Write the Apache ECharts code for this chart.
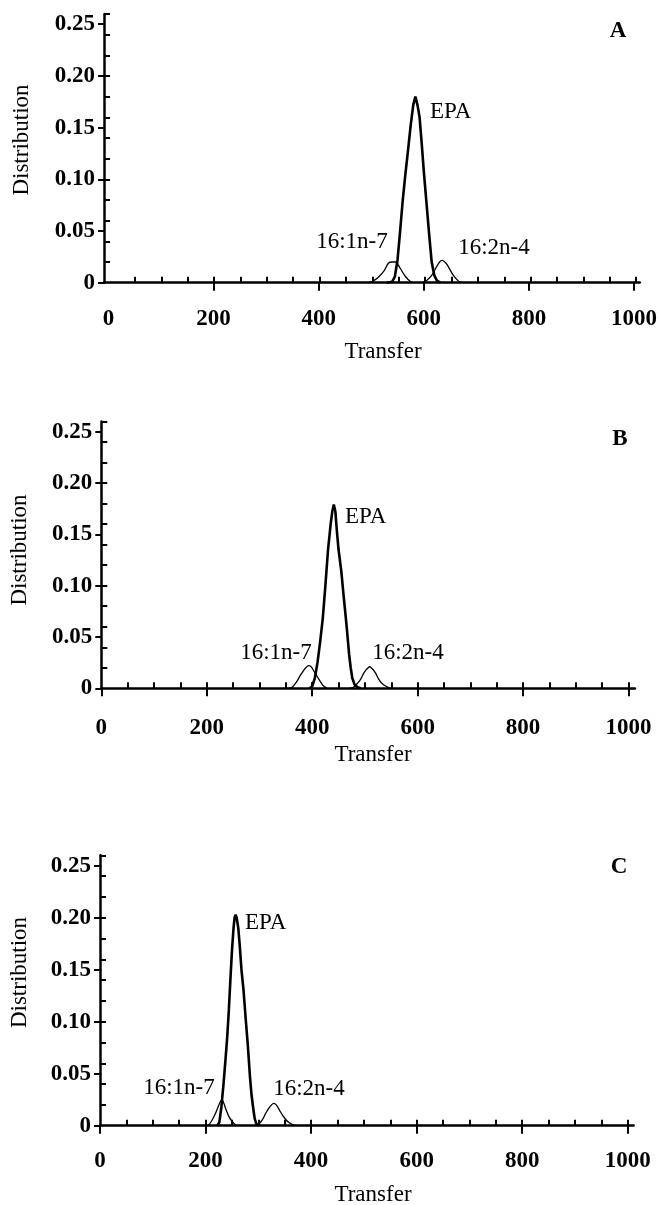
<!DOCTYPE html>
<html><head><meta charset="utf-8">
<script src="https://cdn.jsdelivr.net/npm/echarts@6/dist/echarts.min.js"></script>
<style>html,body{margin:0;padding:0;background:#fff}#c{width:660px;height:1205px}</style>
</head><body><div id="c"></div>
<script>
// ---- tick values / labels ----
const xTickValues = [0, 200, 400, 600, 800, 1000];
const xTickLabels = ['0', '200', '400', '600', '800', '1000'];
const xMinorValues = [50,100,150,200,250,300,350,400,450,500,550,600,650,700,750,800,850,900,950,1000];
const yTickValues = [0, 0.05, 0.10, 0.15, 0.20, 0.25];
const yTickLabels = ['0', '0.05', '0.10', '0.15', '0.20', '0.25'];
const yMinorValues = [0.02,0.04,0.06,0.08,0.10,0.12,0.14,0.16,0.18,0.20,0.22,0.24,0.26];
const panelLetters = ['A', 'B', 'C'];
const peakNames = ['EPA', '16:1n-7', '16:2n-4'];

// ---- panel A ----
const epaA = [[530,0],[540,0.001],[545,0.006],[550,0.022],[555,0.050],[560,0.080],[565,0.105],[570,0.128],[575,0.152],[580,0.172],[584,0.180],[588,0.172],[592,0.160],[596,0.135],[600,0.108],[605,0.078],[610,0.048],[615,0.020],[620,0.007],[625,0.002],[632,0]];
const n7A = [[495,0],[505,0.002],[515,0.006],[525,0.012],[533,0.019],[540,0.020],[546,0.020],[555,0.014],[565,0.006],[575,0.001],[580,0]];
const n4A = [[598,0],[605,0.002],[615,0.007],[625,0.016],[630,0.020],[635,0.0215],[640,0.020],[645,0.017],[655,0.008],[665,0.002],[673,0]];
// ---- panel B ----
const epaB = [[395,0],[400,0.002],[405,0.010],[410,0.025],[415,0.045],[420,0.068],[425,0.100],[430,0.135],[435,0.160],[438,0.172],[441,0.179],[444,0.172],[447,0.152],[450,0.135],[455,0.115],[460,0.088],[465,0.062],[470,0.033],[473,0.020],[476,0.010],[480,0.004],[486,0.001],[492,0]];
const n7B = [[355,0],[362,0.001],[370,0.006],[378,0.013],[386,0.019],[393,0.022],[398,0.021],[404,0.016],[410,0.011],[416,0.006],[422,0.002],[428,0]];
const n4B = [[470,0],[478,0.001],[486,0.005],[492,0.009],[498,0.015],[504,0.019],[509,0.021],[514,0.019],[520,0.015],[526,0.009],[532,0.005],[540,0.002],[548,0]];
// ---- panel C ----
const epaC = [[222,0],[226,0.003],[230,0.018],[234,0.040],[238,0.065],[241,0.085],[244,0.110],[247,0.140],[250,0.168],[253,0.190],[255,0.200],[257,0.203],[259,0.200],[262,0.190],[265,0.172],[268,0.150],[272,0.130],[276,0.103],[280,0.078],[284,0.048],[287,0.030],[290,0.018],[293,0.007],[296,0.002],[300,0]];
const n7C = [[200,0],[206,0.001],[212,0.005],[218,0.011],[223,0.017],[227,0.022],[231,0.025],[235,0.021],[239,0.015],[244,0.009],[249,0.005],[254,0.002],[260,0]];
const n4C = [[296,0],[302,0.002],[308,0.006],[314,0.012],[320,0.017],[325,0.020],[329,0.0215],[334,0.020],[340,0.015],[346,0.010],[352,0.006],[358,0.003],[365,0.001],[372,0]];

const FONT = '"Liberation Serif", "Times New Roman", serif';
const panels = [
  { grid:{left:104, top:13.9, width:538, height:268.8}, xmin:-8.5, xmax:1011, major:[200,400,600,800,1000], margin:25,
    letter:[618,30.7], epaLbl:[430,111.7], n7Lbl:[352,242], n4Lbl:[494,248], dist:[21.7,140], transfer:[383,351.7], data:[epaA,n7A,n4A] },
  { grid:{left:101.3, top:421.5, width:533.6, height:266.8}, xmin:0, xmax:1012, major:[0,200,400,600,800,1000], margin:28,
    letter:[620,439.3], epaLbl:[345,516.7], n7Lbl:[276,653], n4Lbl:[408,653], dist:[20,550], transfer:[373,755], data:[epaB,n7B,n4B] },
  { grid:{left:100, top:855.3, width:533.6, height:270.4}, xmin:0, xmax:1011, major:[0,200,400,600,800,1000], margin:24,
    letter:[619,866.7], epaLbl:[245,923], n7Lbl:[179,1088], n4Lbl:[309,1089], dist:[19.5,972.5], transfer:[373,1195], data:[epaC,n7C,n4C] }
];

const grid=[], xAxis=[], yAxis=[], series=[], graphic=[];
const yFmt = v => { const i = yTickValues.findIndex(t => Math.abs(t - v) < 1e-9); return i >= 0 ? yTickLabels[i] : ''; };
const xFmt = v => { const i = xTickValues.findIndex(t => Math.abs(t - v) < 1e-9); return i >= 0 ? xTickLabels[i] : ''; };
function txt(x, y, text, opts) {
  opts = opts || {};
  return { type:'text', x:x, y:y, rotation: opts.rot || 0, z:10,
    style:{ text:text, x:0, y:0, fill:'#000', font:(opts.weight||'normal')+' 23px '+FONT,
      textAlign:opts.align||'center', align:opts.align||'center', textVerticalAlign:'middle', verticalAlign:'middle' } };
}
panels.forEach((p, k) => {
  const g = k*2;
  grid.push(Object.assign({}, p.grid, {containLabel:false}));
  grid.push(Object.assign({}, p.grid, {containLabel:false}));
  // main axes
  xAxis.push({ type:'value', gridIndex:g, min:p.xmin, max:p.xmax, position:'bottom',
    axisLine:{show:true, onZero:false, lineStyle:{color:'#000', width:2.5}},
    axisTick:{show:true, inside:false, length:8, customValues:p.major, lineStyle:{color:'#000', width:2}},
    axisLabel:{show:true, customValues:xTickValues, formatter:xFmt, margin:p.margin, color:'#000', fontFamily:FONT, fontSize:23, fontWeight:'bold'},
    splitLine:{show:false} });
  yAxis.push({ type:'value', gridIndex:g, min:0, max:0.26, position:'left',
    axisLine:{show:true, onZero:false, lineStyle:{color:'#000', width:2.5}},
    axisTick:{show:true, inside:false, length:6, customValues:yTickValues, lineStyle:{color:'#000', width:2}},
    axisLabel:{show:true, customValues:yTickValues, formatter:yFmt, margin:9, color:'#000', fontFamily:FONT, fontSize:23, fontWeight:'bold'},
    splitLine:{show:false} });
  // secondary (inside minor ticks)
  xAxis.push({ type:'value', gridIndex:g+1, min:p.xmin, max:p.xmax, position:'bottom',
    axisLine:{show:false, onZero:false},
    axisTick:{show:true, inside:true, length:6, customValues:xMinorValues, lineStyle:{color:'#000', width:2}},
    axisLabel:{show:false}, splitLine:{show:false} });
  yAxis.push({ type:'value', gridIndex:g+1, min:0, max:0.26, position:'left',
    axisLine:{show:false, onZero:false},
    axisTick:{show:true, inside:true, length:6, customValues:yMinorValues, lineStyle:{color:'#000', width:2}},
    axisLabel:{show:false}, splitLine:{show:false} });
  p.data.forEach((d, j) => {
    series.push({ type:'line', name:peakNames[j]+' '+panelLetters[k], xAxisIndex:g, yAxisIndex:g, data:d,
      showSymbol:false, symbol:'none', smooth: j===0 ? false : 0.3, clip:false,
      lineStyle:{color:'#000', width: j===0 ? 2.6 : 1.3}, z: j===0 ? 3 : 2, silent:true, animation:false });
  });
  graphic.push(txt(p.letter[0], p.letter[1], panelLetters[k], {weight:'bold'}));
  graphic.push(txt(p.epaLbl[0], p.epaLbl[1], peakNames[0], {align:'left'}));
  graphic.push(txt(p.n7Lbl[0], p.n7Lbl[1], peakNames[1]));
  graphic.push(txt(p.n4Lbl[0], p.n4Lbl[1], peakNames[2]));
  graphic.push(txt(p.dist[0], p.dist[1], 'Distribution', {rot:Math.PI/2}));
  graphic.push(txt(p.transfer[0], p.transfer[1], 'Transfer'));
});

const chart = echarts.init(document.getElementById('c'), null, {renderer:'canvas'});
chart.setOption({ backgroundColor:'#fff', animation:false, grid, xAxis, yAxis, series, graphic });
</script></body></html>
